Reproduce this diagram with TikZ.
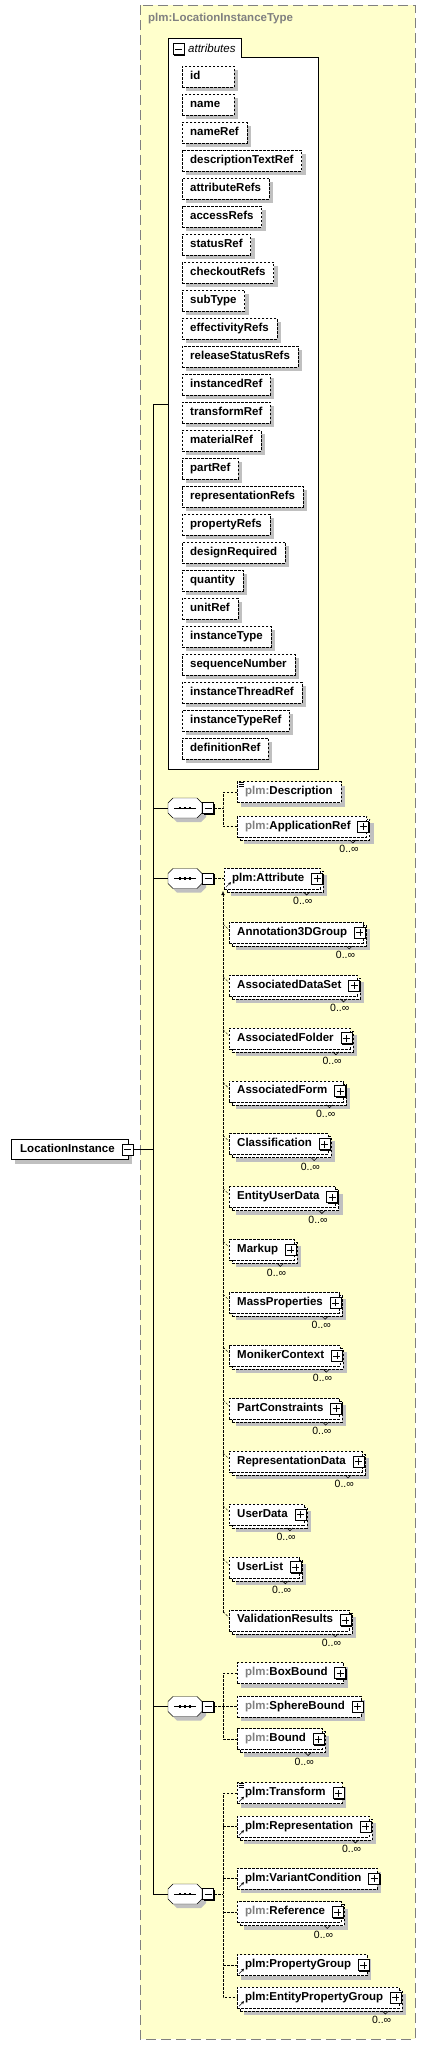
\documentclass[tikz,border=0pt]{standalone}
\usepackage{fontspec}
\setmainfont{Liberation Sans}
\usetikzlibrary{positioning,calc,shadows,arrows.meta}

\definecolor{typefill}{RGB}{255,255,204}
\definecolor{shadegray}{RGB}{192,192,192}
\definecolor{prefixgray}{RGB}{128,128,128}

\tikzset{
  elbox/.style={draw, fill=white, anchor=west, font=\fontsize{11.5}{13}\selectfont\bfseries,
    inner xsep=8pt, inner ysep=0pt, minimum height=21pt, text height=8pt, text depth=2.5pt},
  opt/.style={dash pattern=on 2.5pt off 1.5pt},
  shadowed/.style={drop shadow={shadow xshift=4pt, shadow yshift=-4pt, fill=shadegray, opacity=1}},
  multi/.style={drop shadow={shadow xshift=7pt, shadow yshift=-7pt, fill=shadegray, opacity=1},
    copy shadow={shadow xshift=3pt, shadow yshift=-3pt, fill=white, draw=black, opt}},
  tog/.style={draw, fill=white, minimum size=11pt, inner sep=0pt, line width=0.8pt,
    drop shadow={shadow xshift=1pt, shadow yshift=-1pt, fill=black, opacity=1}},
  seq/.style={minimum width=34pt, minimum height=20pt, inner sep=0pt},
  occ/.style={anchor=east, font=\fontsize{10.5}{12}\selectfont, inner sep=0pt},
}

\newcommand\gpfx{\textcolor{prefixgray}{plm:}}
% left aligned text, at least #1 wide
\newcommand\padl[2]{\setbox0\hbox{#2}\ifdim\wd0<#1\hbox to #1{\box0\hfil}\else\box0\fi}
% element box with a plus toggle: name, style, position, label
\newcommand\elem[4]{%
  \node[elbox,#2] (#1) at (#3) {#4\kern8pt};
  \node[tog] (#1-t) at ([xshift=-3.5pt]#1.east) {};
  \draw ([xshift=-3.5pt]#1-t.center) -- ([xshift=3.5pt]#1-t.center)
        ([yshift=-3.5pt]#1-t.center) -- ([yshift=3.5pt]#1-t.center);
}
\newcommand\occ[1]{%
  \draw[line width=0.6pt] ([shift={(-17,13.5)}]#1.east) -- ++(3,3) -- ++(3,-3);
  \node[occ] (#1-o) at ([shift={(-8,22.5)}]#1.east) {0..∞};}
\newcommand\refmark[1]{\draw[-{Stealth[length=3pt,width=3pt]}] ([shift={(2,-2)}]#1.south west) -- ++(5,-5);}
\newcommand\notemark[1]{\foreach \d in {0.5,2.5,4.5} \draw[line width=0.6pt] ([shift={(1.5,\d)}]#1.north west) -- ++(5.5,0);}
% sequence compositor with a minus toggle
\newcommand\octpath{(-17,-5) -- (-12,-10) -- (12,-10) -- (17,-5) -- (17,5) -- (12,10) -- (-12,10) -- (-17,5) -- cycle}
\newcommand\compo[2]{%
  \node[seq] (#1) at (#2) {};
  \fill[shadegray, shift={(#2)}, shift={(4,4)}] \octpath;
  \draw[fill=white, shift={(#2)}] \octpath;
  \node[tog, anchor=west] (#1-t) at (#1.east) {};
  \draw ([xshift=-3.5pt]#1-t.center) -- ([xshift=3.5pt]#1-t.center);
  \draw ([xshift=-11pt]#1.center) -- ([xshift=11pt]#1.center);
  \foreach \d in {-5,0,5}
    \fill ([xshift=\d pt]#1.center) +(-1.3,-1.3) rectangle +(1.3,1.3);
}

\begin{document}
\begin{tikzpicture}[x=1pt, y=-1pt]
  \useasboundingbox (0,0) rectangle (425,2045);

  % complex type
  \draw[prefixgray, fill=typefill, dash pattern=on 10pt off 5pt] (140,5) rectangle (415,2039);
  \node[anchor=west, text=prefixgray, inner sep=0pt, font=\fontsize{11.5}{13}\selectfont\bfseries] (ctype) at (148,19) {plm:LocationInstanceType};

  % attributes
  \draw[fill=white] (168,769) -- (168,38) -- (241,38) -- (241,57) -- (318,57) -- (318,769) -- cycle;
  \node[tog] (attr-t) at (178.5,49) {};
  \draw ([xshift=-3.5pt]attr-t.center) -- ([xshift=3.5pt]attr-t.center);
  \node[anchor=west, inner sep=0pt, font=\fontsize{11.5}{13}\selectfont\itshape] (attr) at (188,48) {attributes};
  \foreach \a [count=\i from 0] in {id, name, nameRef, descriptionTextRef, attributeRefs,
      accessRefs, statusRef, checkoutRefs, subType, effectivityRefs, releaseStatusRefs,
      instancedRef, transformRef, materialRef, partRef, representationRefs, propertyRefs,
      designRequired, quantity, unitRef, instanceType, sequenceNumber, instanceThreadRef,
      instanceTypeRef, definitionRef}
    \node[elbox, opt, shadowed] (a\i) at (182,76.5+28*\i) {\padl{36pt}{\a}};
  \coordinate (attbox) at (168,404);

  % root element
  \node[elbox, shadowed, minimum height=20pt, inner xsep=9pt] (root) at (11,1149.5) {LocationInstance\kern4pt};
  \node[tog] (root-t) at (root.east) {};
  \draw ([xshift=-3.5pt]root-t.center) -- ([xshift=3.5pt]root-t.center);

  % compositors
  \compo{s1}{185,808}
  \compo{s2}{185,878.5}
  \compo{s3}{185,1706.5}
  \compo{s4}{185,1894}

  % trunk
  \coordinate (tk) at (153,404);
  \draw (attbox) -- (tk) -- (tk |- s4.west) -- (s4.west);
  \foreach \s in {s1,s2,s3} \draw (tk |- \s.west) -- (\s.west);
  \draw (root-t.east) -- (tk |- root-t.east);

  % first sequence
  \node[elbox, opt, shadowed] (desc) at (237,792) {\gpfx Description};
  \notemark{desc}
  \elem{appref}{opt,multi}{237,826.5}{\gpfx ApplicationRef}
  \occ{appref}
  \coordinate (c1) at (223,808);
  \draw[opt] (s1-t.east) -- (c1);
  \draw[opt] (desc.west) -| (c1) |- (appref.west);

  % second sequence
  \elem{attrib}{opt,multi}{224,878.5}{plm:Attribute}
  \refmark{attrib}
  \occ{attrib}
  \draw[opt] (s2-t.east) -- (attrib.west);
  \foreach \e [count=\i from 0] in {Annotation3DGroup, AssociatedDataSet, AssociatedFolder,
      AssociatedForm, Classification, EntityUserData, Markup, MassProperties, MonikerContext,
      PartConstraints, RepresentationData, UserData, UserList, ValidationResults} {
    \elem{g\i}{opt,multi}{229,932.5+52.9*\i}{\e}
    \occ{g\i}
  }
  \coordinate (c2) at (223,891);
  \draw[opt, -{Latex[length=4pt,width=3.5pt]}] (c2 |- g13.north west) ++(0,3) -- (c2);
  \foreach \i in {0,...,13}
    \draw[opt] (c2 |- g\i.north west) ++(0,2) -- ([yshift=-8pt]g\i.north west);

  % third sequence
  \elem{bbound}{opt,shadowed}{237,1673}{\gpfx BoxBound}
  \elem{sbound}{opt,shadowed}{237,1706.5}{\gpfx SphereBound}
  \elem{bound}{opt,multi}{237,1739}{\gpfx Bound}
  \occ{bound}
  \coordinate (c3) at (223,1706.5);
  \draw[opt] (s3-t.east) -- (sbound.west);
  \draw[opt] (bbound.west) -| (c3) |- (bound.west);

  % fourth sequence
  \elem{trans}{opt,shadowed}{237,1793}{plm:Transform}
  \refmark{trans}
  \notemark{trans}
  \elem{repr}{opt,multi}{237,1826.5}{plm:Representation}
  \refmark{repr}
  \occ{repr}
  \elem{varc}{opt,shadowed}{237,1878.5}{plm:VariantCondition}
  \refmark{varc}
  \elem{refer}{opt,multi}{237,1912}{\gpfx Reference}
  \occ{refer}
  \elem{pgroup}{opt,shadowed}{237,1965}{plm:PropertyGroup}
  \refmark{pgroup}
  \elem{epgroup}{opt,multi}{237,1997.5}{plm:EntityPropertyGroup}
  \refmark{epgroup}
  \occ{epgroup}
  \coordinate (c4) at (223,1894);
  \draw[opt] (s4-t.east) -- (c4);
  \draw[opt] (trans.west) -| (c4) |- (epgroup.west);
  \foreach \n in {repr,varc,refer,pgroup} \draw[opt] (c4 |- \n.west) -- (\n.west);
\end{tikzpicture}
\end{document}
